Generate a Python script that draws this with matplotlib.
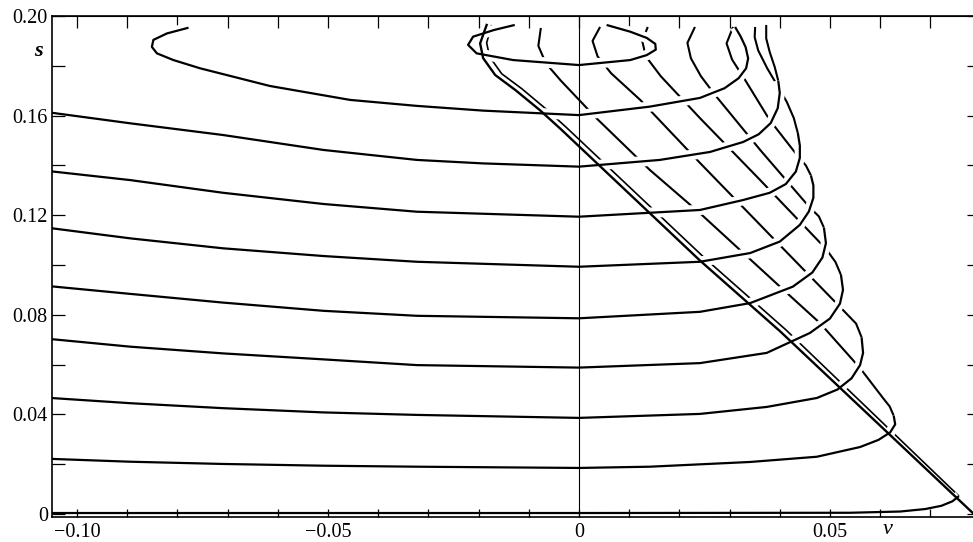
import numpy as np
import matplotlib
matplotlib.use('Agg')
import matplotlib.pyplot as plt
import matplotlib.patheffects as pe

# Section curves of the surface as (v, s) pairs.
# "lower" parts are drawn in front, "upper" parts pass behind (broken at crossings).

t0 = [(-0.0128, 0.1964), (-0.0169, 0.1944), (-0.0211, 0.1917), (-0.0221, 0.1884),
      (-0.0204, 0.1850), (-0.0131, 0.1823), (0.0, 0.1803), (0.0102, 0.1823),
      (0.0135, 0.1843), (0.0153, 0.1865), (0.0152, 0.1888), (0.0135, 0.1912),
      (0.0102, 0.1937), (0.0055, 0.1964)]

t1 = [(-0.0778, 0.1953), (-0.0821, 0.1930), (-0.0848, 0.1904), (-0.0851, 0.1876),
      (-0.0841, 0.1850), (-0.0808, 0.1823), (-0.0755, 0.1790), (-0.0616, 0.1719),
      (-0.0456, 0.1663), (-0.0323, 0.1639), (-0.0191, 0.1620), (0.0, 0.1602),
      (0.0141, 0.1636), (0.0241, 0.1671), (0.0290, 0.1710), (0.0318, 0.1750),
      (0.0333, 0.1790), (0.0337, 0.1830), (0.0332, 0.1875), (0.0322, 0.1918),
      (0.0311, 0.1956)]

a_lower = [(-0.106, 0.1614), (-0.0894, 0.1569), (-0.0709, 0.1522), (-0.0509, 0.1462),
           (-0.0323, 0.1422), (-0.0191, 0.1408), (0.0, 0.1395), (0.0161, 0.1422),
           (0.0261, 0.1454), (0.0327, 0.1494), (0.0358, 0.1525), (0.0382, 0.1570),
           (0.0396, 0.1630), (0.0400, 0.1691), (0.0397, 0.1740)]
a_upper = [(0.0397, 0.1740), (0.0390, 0.1795), (0.0380, 0.1855), (0.0373, 0.1910),
           (0.0373, 0.1964)]

b_lower = [(-0.106, 0.1378), (-0.0894, 0.1341), (-0.0709, 0.1290), (-0.0509, 0.1245),
           (-0.0323, 0.1214), (0.0, 0.1194), (0.0241, 0.1221), (0.0327, 0.1261),
           (0.0380, 0.1290), (0.0412, 0.1325), (0.0432, 0.1375), (0.0440, 0.1430),
           (0.0440, 0.1480), (0.0436, 0.1530)]
b_upper = [(0.0436, 0.1530), (0.0428, 0.1590), (0.0414, 0.1655), (0.0397, 0.1715),
           (0.0375, 0.1790), (0.0357, 0.1862), (0.0350, 0.1915), (0.0351, 0.1956)]

c_lower = [(-0.106, 0.1150), (-0.0894, 0.1107), (-0.0709, 0.1067), (-0.0509, 0.1036),
           (-0.0323, 0.1013), (0.0, 0.0993), (0.0241, 0.1013), (0.0341, 0.1048),
           (0.0400, 0.1094), (0.0440, 0.1161), (0.0458, 0.1215), (0.0467, 0.1270),
           (0.0467, 0.1320), (0.0462, 0.1360)]
c_upper = [(0.0462, 0.1360), (0.0452, 0.1400), (0.0435, 0.1440), (0.0380, 0.1582),
           (0.0331, 0.1743), (0.0305, 0.1825), (0.0294, 0.1890), (0.0307, 0.1956)]

d_lower = [(-0.106, 0.0916), (-0.0894, 0.0884), (-0.0709, 0.0849), (-0.0509, 0.0816),
           (-0.0323, 0.0796), (0.0, 0.0786), (0.0241, 0.0812), (0.0341, 0.0847),
           (0.0426, 0.0913), (0.0465, 0.0970), (0.0485, 0.1030), (0.0492, 0.1088),
           (0.0488, 0.1150)]
d_upper = [(0.0488, 0.1150), (0.0478, 0.1195), (0.0458, 0.1235), (0.0361, 0.1462),
           (0.0271, 0.1683), (0.0243, 0.1758), (0.0223, 0.1830), (0.0216, 0.1892),
           (0.0231, 0.1956)]

e_lower = [(-0.106, 0.0704), (-0.0894, 0.0672), (-0.0709, 0.0645), (-0.0509, 0.0621),
           (-0.0323, 0.0598), (0.0, 0.0588), (0.0241, 0.0606), (0.0374, 0.0647),
           (0.0460, 0.0727), (0.0500, 0.0785), (0.0520, 0.0845), (0.0526, 0.0900),
           (0.0522, 0.0960)]
e_upper = [(0.0522, 0.0960), (0.0511, 0.1012), (0.0492, 0.1065), (0.0361, 0.1341),
           (0.0241, 0.1590), (0.0163, 0.1758), (0.0133, 0.1838), (0.0126, 0.1900),
           (0.0137, 0.1956)]

f_lower = [(-0.106, 0.0467), (-0.0894, 0.0445), (-0.0709, 0.0425), (-0.0509, 0.0408),
           (-0.0323, 0.0398), (0.0, 0.0386), (0.0241, 0.0402), (0.0374, 0.0430),
           (0.0474, 0.0466), (0.0515, 0.0500), (0.0543, 0.0545), (0.0560, 0.0598),
           (0.0566, 0.0647), (0.0563, 0.0710)]
f_upper = [(0.0563, 0.0710), (0.0552, 0.0765), (0.0528, 0.0815), (0.0400, 0.1080),
           (0.0241, 0.1410), (0.0122, 0.1663), (0.0064, 0.1770), (0.0037, 0.1838),
           (0.0027, 0.1900), (0.0042, 0.1956)]

g_lower = [(-0.106, 0.0222), (-0.0894, 0.0210), (-0.0709, 0.0201), (-0.0509, 0.0194),
           (-0.0323, 0.0190), (0.0, 0.0185), (0.0141, 0.0190), (0.0341, 0.0209),
           (0.0474, 0.0230), (0.0560, 0.0269), (0.0597, 0.0298), (0.0620, 0.0328),
           (0.0630, 0.0360), (0.0627, 0.0395)]
g_upper = [(0.0627, 0.0395), (0.0619, 0.0432), (0.0606, 0.0465), (0.0560, 0.0586),
           (0.0480, 0.0767), (0.0414, 0.0888), (0.0314, 0.1073), (0.0241, 0.1208),
           (0.0141, 0.1382), (0.0035, 0.1589), (-0.0036, 0.1740), (-0.0066, 0.1810),
           (-0.0081, 0.1880), (-0.0076, 0.1952)]

h_lower = [(-0.106, 0.0004), (-0.05, 0.0004), (0.0, 0.0004), (0.0540, 0.0005),
           (0.0640, 0.0010), (0.0690, 0.0020), (0.0722, 0.0033), (0.0744, 0.0051),
           (0.0757, 0.0072)]
h_upper = [(0.0757, 0.0072), (0.0412, 0.0740), (0.0253, 0.1023), (-0.0026, 0.1554),
           (-0.0066, 0.1627), (-0.0114, 0.1708), (-0.0154, 0.1768), (-0.0178, 0.1836),
           (-0.0184, 0.1892), (-0.0174, 0.1964)]

# fold edge (heavy line of the double line)
edge = [(-0.0184, 0.1964), (-0.0197, 0.1890), (-0.0191, 0.1831), (-0.0167, 0.1763),
        (-0.0127, 0.1703), (-0.0078, 0.1622), (-0.0038, 0.1549), (0.0241, 0.1018),
        (0.0400, 0.0735), (0.0782, 0.0009), (0.0800, -0.0025)]

front = [t0, t1, a_lower, b_lower, c_lower, d_lower, e_lower, f_lower, g_lower, h_lower]
back = [a_upper, b_upper, c_upper, d_upper, e_upper, f_upper, g_upper]

x_major = [-0.10, -0.05, 0.0, 0.05]
x_labels = ['\u22120.10', '\u22120.05', '0', '0.05']
x_minor = [-0.09, -0.08, -0.07, -0.06, -0.04, -0.03, -0.02, -0.01,
           0.01, 0.02, 0.03, 0.04, 0.06, 0.07]
y_major = [0.0, 0.04, 0.08, 0.12, 0.16, 0.20]
y_labels = ['0', '0.04', '0.08', '0.12', '0.16', '0.20']
y_minor = [0.02, 0.06, 0.10, 0.14, 0.18]

plt.rcParams['font.family'] = ['Liberation Serif', 'DejaVu Serif']

W, H = 973, 542
fig = plt.figure(figsize=(W / 100, H / 100), dpi=100)
ax = fig.add_axes([52 / W, 1 - 517 / H, (975 - 52) / W, (517 - 16) / H])
ax.set_xlim(-0.105, 0.0789)
ax.set_ylim(-0.0012, 0.2)
ax.set_axisbelow(False)

halo = [pe.Stroke(linewidth=7.5, foreground='white', capstyle='butt'), pe.Normal()]

for pts in back:
    v, s = np.array(pts).T
    ax.plot(v, s, color='black', lw=1.5, solid_capstyle='butt',
            solid_joinstyle='round', zorder=1)

v, s = np.array(h_upper).T
ax.plot(v, s, color='black', lw=1.2, solid_capstyle='butt', zorder=1)

for pts in front:
    v, s = np.array(pts).T
    ax.plot(v, s, color='black', lw=1.6, solid_capstyle='butt',
            solid_joinstyle='round', path_effects=halo, zorder=1.5)

v, s = np.array(edge).T
ax.plot(v, s, color='black', lw=1.7, solid_joinstyle='round', zorder=2)

ax.axvline(0, color='black', lw=0.8, zorder=2)

# bottom / left: labelled ticks
ax.set_xticks(x_major)
ax.set_xticklabels(x_labels)
ax.set_xticks(x_minor, minor=True)
ax.set_yticks(y_major)
ax.set_yticklabels(y_labels)
ax.set_yticks(y_minor, minor=True)
ax.tick_params(which='both', direction='in', width=0.9, labelsize=14.5)
ax.tick_params(axis='x', which='both', length=6, pad=4)
ax.tick_params(axis='y', which='both', length=9, pad=3)
for sp in ax.spines.values():
    sp.set_linewidth(1.2)

# top / right: plain inward ticks
top = ax.secondary_xaxis('top')
top.set_xticks(x_major + x_minor)
top.tick_params(direction='in', length=8.5, width=0.9, labeltop=False)
right = ax.secondary_yaxis('right')
right.set_yticks(y_major + y_minor)
right.tick_params(direction='in', length=6, width=0.9, labelright=False)

ax.text(-0.1078, 0.186, 's', fontsize=16, style='italic', weight='bold',
        ha='center', va='center', clip_on=False)
ax.text(0.0614, -0.0062, 'v', fontsize=16, style='italic',
        ha='center', va='center', clip_on=False)

fig.savefig('out.png', dpi=100)
